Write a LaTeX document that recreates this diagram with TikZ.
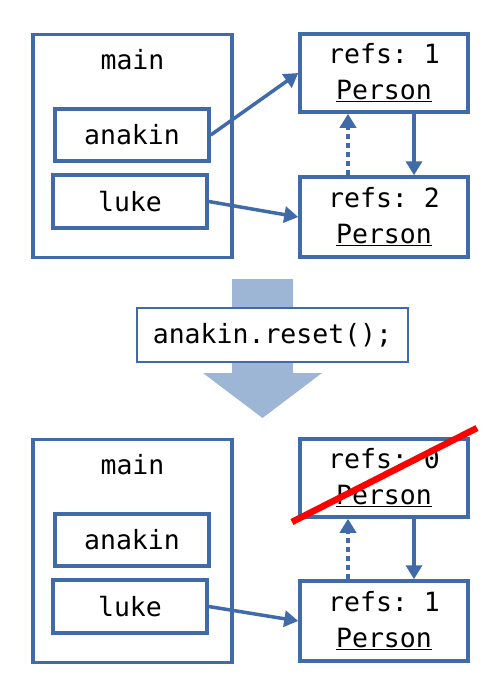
\documentclass[tikz,border=0pt]{standalone}
\usepackage{fontspec}
\setmonofont{DejaVu Sans Mono}
\usetikzlibrary{arrows.meta}
\definecolor{boxblue}{RGB}{65,106,168}
\definecolor{paleblue}{RGB}{158,182,214}
\tikzset{
  frame/.style={draw=boxblue,line width=3.5pt,fill=white,inner sep=0pt},
  txt/.style={font=\fontsize{26.5}{36}\selectfont\ttfamily,align=center},
  ptr/.style={draw=boxblue,line width=3.5pt,-{Triangle[length=14pt,width=16pt]}},
}
\begin{document}
\begin{tikzpicture}[x=1pt,y=-1pt]
  \useasboundingbox (0,0) rectangle (491,683);
  % Draw stack and heap before reset
  \node[frame,minimum width=199,minimum height=223] (mainA) at (132.5,146) {};
  \node[txt] (mainAlbl) at (132.5,60) {main};
  \node[frame,txt,minimum width=154,minimum height=52] (anakinA) at (132,135) {anakin};
  \node[frame,txt,minimum width=154,minimum height=53] (lukeA) at (130,201.5) {luke};
  \node[frame,txt,minimum width=168,minimum height=78] (personA1) at (384,73)
        {refs: 1\\\underline{Person}};
  \node[frame,txt,minimum width=168,minimum height=80] (personA2) at (384,217)
        {refs: 2\\\underline{Person}};
  % Draw pointers
  \draw[ptr] (anakinA.east) -- (personA1.west);
  \draw[ptr] (lukeA.east) -- (personA2.west);
  \draw[ptr] ([xshift=30]personA1.south) -- ([xshift=30]personA2.north);
  \draw[ptr,dash pattern=on 5pt off 4pt] ([xshift=-36]personA2.north) -- ([xshift=-36]personA1.south);
  % Draw big arrow and call
  \fill[paleblue] (232,279) -- (293,279) -- (293,373) -- (322,373) -- (262.5,418)
        -- (203,373) -- (232,373) -- cycle;
  \node[draw=boxblue,line width=1.2pt,fill=white,txt,minimum width=271,minimum height=54]
        (call) at (272.5,335) {anakin.reset();};
  % Draw stack and heap after reset
  \node[frame,minimum width=199,minimum height=223] (mainB) at (132.5,551) {};
  \node[txt] (mainBlbl) at (132.5,465) {main};
  \node[frame,txt,minimum width=154,minimum height=52] (anakinB) at (132,540) {anakin};
  \node[frame,txt,minimum width=154,minimum height=53] (lukeB) at (130,606.5) {luke};
  \node[frame,txt,minimum width=168,minimum height=78] (personB0) at (384,478)
        {refs: 0\\\underline{Person}};
  \node[frame,txt,minimum width=168,minimum height=80] (personB1) at (384,621)
        {refs: 1\\\underline{Person}};
  \draw[ptr] (lukeB.east) -- (personB1.west);
  \draw[ptr] ([xshift=30]personB0.south) -- ([xshift=30]personB1.north);
  \draw[ptr,dash pattern=on 5pt off 4pt] ([xshift=-36]personB1.north) -- ([xshift=-36]personB0.south);
  % Cross out freed object
  \coordinate (crossA) at (292,522);
  \coordinate (crossB) at (477,428);
  \draw[red,line width=6.5pt] (crossA) -- (crossB);
\end{tikzpicture}
\end{document}
